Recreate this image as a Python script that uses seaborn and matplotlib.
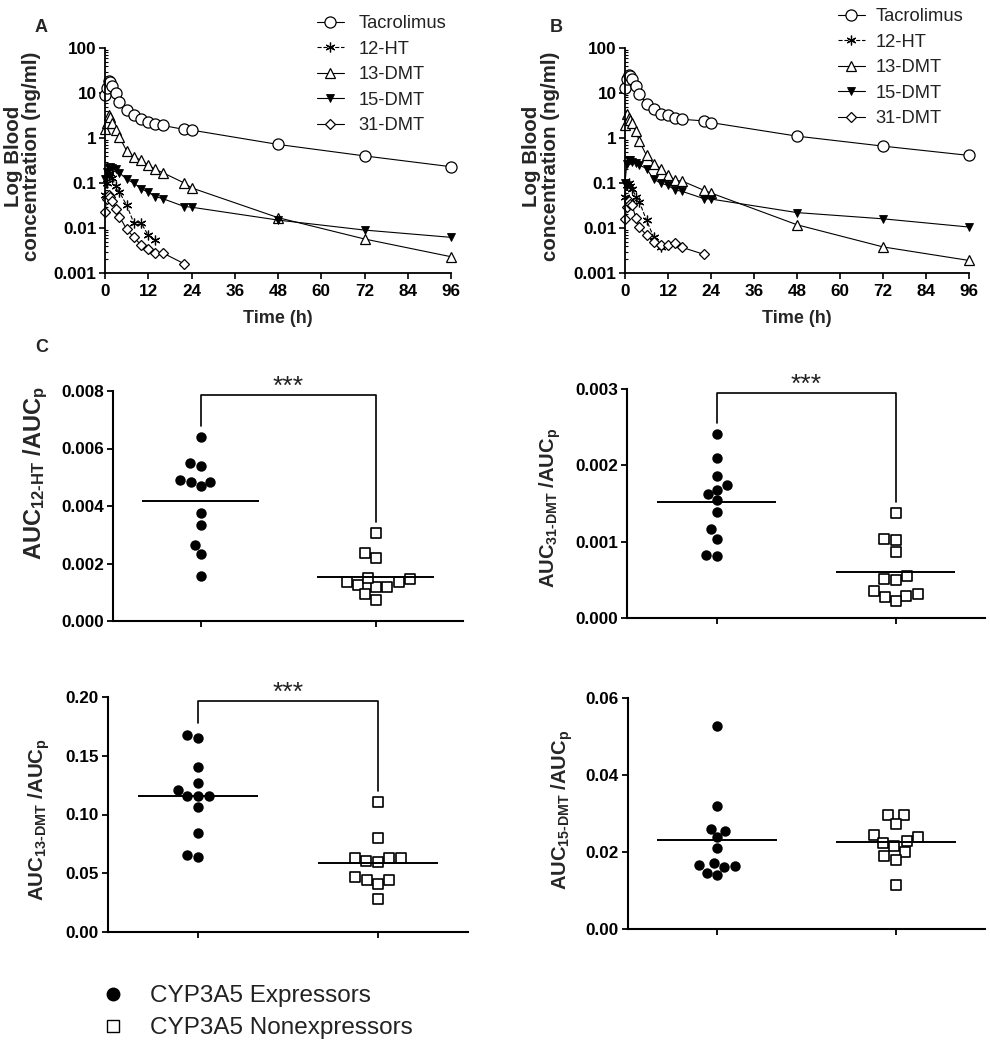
import numpy as np
import pandas as pd
import matplotlib
matplotlib.use("Agg")
import matplotlib.pyplot as plt
import seaborn as sns
from matplotlib.lines import Line2D
from matplotlib.ticker import FixedLocator, FuncFormatter, NullFormatter, LogLocator

sns.set_theme(style="ticks")
plt.rcParams["font.family"] = ["Liberation Sans", "DejaVu Sans"]
plt.rcParams["mathtext.fontset"] = "custom"
plt.rcParams["mathtext.rm"] = "Liberation Sans:bold"
plt.rcParams["mathtext.bf"] = "Liberation Sans:bold"
plt.rcParams["mathtext.it"] = "Liberation Sans:bold"
plt.rcParams["mathtext.sf"] = "Liberation Sans:bold"
plt.rcParams["axes.edgecolor"] = "black"
plt.rcParams["xtick.color"] = "black"
plt.rcParams["ytick.color"] = "black"

# ---------------- data: pharmacokinetic curves ----------------
time_full = [0, 0.5, 1, 1.5, 2, 3, 4, 6, 8, 10, 12, 14, 16, 22, 24, 48, 72, 96]
time_12ht_a = [0, 0.5, 1, 1.5, 2, 3, 4, 6, 8, 10, 12, 14]
time_12ht_b = [0, 0.5, 1, 1.5, 2, 3, 4, 6, 8, 10]
time_31dmt = [0, 0.5, 1, 1.5, 2, 3, 4, 6, 8, 10, 12, 14, 16, 22]

tac_a = [9, 13, 18.6, 18, 14, 10, 6.4, 4.2, 3.2, 2.7, 2.3, 2.1, 1.9, 1.55, 1.5, 0.72, 0.40, 0.23]
ht12_a = [0.055, 0.1, 0.15, 0.17, 0.13, 0.085, 0.063, 0.032, 0.013, 0.013, 0.0069, 0.0054]
dmt13_a = [1.6, 2.2, 3.2, 3.0, 2.2, 1.5, 1.05, 0.52, 0.38, 0.32, 0.25, 0.2, 0.17, 0.1, 0.078, 0.017, 0.0057, 0.0023]
dmt15_a = [0.12, 0.18, 0.22, 0.23, 0.22, 0.2, 0.17, 0.12, 0.1, 0.075, 0.062, 0.05, 0.045, 0.030, 0.029, 0.015, 0.009, 0.0062]
dmt31_a = [0.023, 0.045, 0.055, 0.05, 0.04, 0.026, 0.018, 0.0094, 0.0062, 0.0042, 0.0035, 0.0028, 0.0028, 0.0016]

tac_b = [13, 20, 25, 24, 21, 14, 9.7, 5.8, 4.3, 3.5, 3.2, 2.8, 2.6, 2.4, 2.2, 1.1, 0.66, 0.41]
ht12_b = [0.05, 0.09, 0.1, 0.085, 0.075, 0.05, 0.038, 0.015, 0.0063, 0.0038]
dmt13_b = [1.9, 3.4, 2.8, 2.5, 2.2, 1.4, 0.85, 0.41, 0.27, 0.21, 0.15, 0.114, 0.11, 0.069, 0.06, 0.0118, 0.0038, 0.0019]
dmt15_b = [0.1, 0.27, 0.32, 0.32, 0.3, 0.28, 0.25, 0.21, 0.12, 0.1, 0.088, 0.07, 0.065, 0.045, 0.044, 0.022, 0.016, 0.0105]
dmt31_b = [0.016, 0.03, 0.04, 0.035, 0.032, 0.017, 0.0105, 0.0069, 0.005, 0.0041, 0.0042, 0.0046, 0.0037, 0.0026]

series_names = ["Tacrolimus", "12-HT", "13-DMT", "15-DMT", "31-DMT"]
time_ticks = [0, 12, 24, 36, 48, 60, 72, 84, 96]
log_ticks = [0.001, 0.01, 0.1, 1, 10, 100]

# ---------------- data: AUC ratio dot plots ----------------
groups = ["CYP3A5 Expressors", "CYP3A5 Nonexpressors"]
auc12ht_exp = [0.0064, 0.0054, 0.0055, 0.0049, 0.00485, 0.00468, 0.00485, 0.00375, 0.00335, 0.00265, 0.00233, 0.00158]
auc12ht_non = [0.00305, 0.00238, 0.00218, 0.00145, 0.00135, 0.0012, 0.00125, 0.00149, 0.00135, 0.0012, 0.00093, 0.00073]
auc31dmt_exp = [0.00241, 0.00209, 0.00186, 0.00168, 0.00174, 0.00162, 0.00154, 0.00139, 0.00116, 0.00104, 0.00081, 0.00082]
auc31dmt_non = [0.00137, 0.00104, 0.00102, 0.00086, 0.00051, 0.00050, 0.00055, 0.00036, 0.00029, 0.00022, 0.00028, 0.00031]
auc13dmt_exp = [0.1675, 0.1655, 0.1406, 0.127, 0.121, 0.116, 0.116, 0.116, 0.106, 0.084, 0.064, 0.0656]
auc13dmt_non = [0.1103, 0.080, 0.0634, 0.0634, 0.060, 0.0605, 0.0634, 0.0464, 0.0444, 0.0407, 0.0444, 0.028]
auc15dmt_exp = [0.0526, 0.032, 0.0255, 0.0261, 0.0238, 0.0211, 0.0165, 0.0161, 0.014, 0.0146, 0.0164, 0.0172]
auc15dmt_non = [0.0296, 0.0296, 0.0274, 0.0243, 0.0238, 0.0223, 0.0229, 0.0215, 0.020, 0.019, 0.018, 0.0113]

W, H = 990, 1050
fig = plt.figure(figsize=(W / 100, H / 100), dpi=100)


def fbox(left, top, right, bottom):
    return [left / W, 1 - bottom / H, (right - left) / W, (bottom - top) / H]


TICK_FS = 12.3
BOLD = "bold"


def pk_panel(ax, data, legend_anchor, handletextpad, label_x):
    styles = [
        dict(marker="o", markersize=8, markerfacecolor="white", markeredgecolor="black", markeredgewidth=0.9, linestyle="-"),
        dict(marker=(6, 2, 0), markersize=7, markeredgecolor="black", markeredgewidth=0.9, linestyle="--"),
        dict(marker="^", markersize=7.5, markerfacecolor="white", markeredgecolor="black", markeredgewidth=0.9, linestyle="-"),
        dict(marker="v", markersize=6, markerfacecolor="black", markeredgecolor="black", markeredgewidth=0.6, linestyle="-"),
        dict(marker="D", markersize=5, markerfacecolor="white", markeredgecolor="black", markeredgewidth=0.9, linestyle="-"),
    ]
    for name, (t, v), st in zip(series_names, data, styles):
        df = pd.DataFrame({"t": t, "c": v})
        sns.lineplot(data=df, x="t", y="c", ax=ax, color="black", linewidth=0.8,
                     label=name, clip_on=False, **st)
    ax.set_yscale("log")
    ax.set_ylim(0.001, 100)
    ax.set_xlim(0, 96)
    ax.set_xticks(time_ticks)
    ax.set_xticklabels([str(t) for t in time_ticks], fontsize=TICK_FS, fontweight=BOLD)
    ax.yaxis.set_major_locator(FixedLocator(log_ticks))
    ax.yaxis.set_major_formatter(FuncFormatter(lambda v, p: f"{v:g}"))
    ax.yaxis.set_minor_locator(LogLocator(base=10, subs=np.arange(2, 10)))
    ax.yaxis.set_minor_formatter(NullFormatter())
    for lab in ax.get_yticklabels():
        lab.set_fontsize(TICK_FS)
        lab.set_fontweight(BOLD)
    ax.tick_params(axis="x", which="major", direction="out", length=4, width=1.2, pad=4)
    ax.tick_params(axis="y", which="major", direction="out", length=4, width=1.2, pad=2)
    ax.tick_params(axis="y", which="minor", direction="in", length=2.2, width=0.8)
    sns.despine(ax=ax)
    for s in ["left", "bottom"]:
        ax.spines[s].set_linewidth(1.3)
    ax.set_xlabel("Time (h)", fontsize=13, fontweight=BOLD, labelpad=8)
    ax.set_ylabel("Log Blood\nconcentration (ng/ml)", fontsize=14.8, fontweight=BOLD, linespacing=0.95)
    ax.yaxis.set_label_coords(label_x, 0.52)
    leg = ax.legend(loc="upper left", bbox_to_anchor=legend_anchor, bbox_transform=fig.transFigure,
                    frameon=False, fontsize=13.2, handlelength=1.45, handletextpad=handletextpad,
                    labelspacing=0.47, borderpad=0, borderaxespad=0)
    for txt in leg.get_texts():
        txt.set_color("#222222")
    for h in leg.legend_handles:
        h.set_linewidth(0.8)


axA = fig.add_axes(fbox(105, 48, 451, 273))
pk_panel(axA, [(time_full, tac_a), (time_12ht_a, ht12_a), (time_full, dmt13_a),
               (time_full, dmt15_a), (time_31dmt, dmt31_a)], (317 / W, 1 - 15 / H), 0.8, -0.185)
axB = fig.add_axes(fbox(625, 48, 969, 273))
pk_panel(axB, [(time_full, tac_b), (time_12ht_b, ht12_b), (time_full, dmt13_b),
               (time_full, dmt15_b), (time_31dmt, dmt31_b)], (838 / W, 1 - 8 / H), 0.6, -0.19)


def dot_panel(ax, exp, non, ytop, step, fmt, sub, label_fs, label_xy, signif):
    sns.swarmplot(x=[groups[0]] * len(exp), y=exp, order=groups, ax=ax, color="black",
                  marker="o", size=7.5, linewidth=0)
    sns.swarmplot(x=[groups[1]] * len(non), y=non, order=groups, ax=ax, color="white",
                  marker="s", size=7, edgecolor="black", linewidth=1.2)
    for i, vals in enumerate([exp, non]):
        ax.hlines(np.mean(vals), i - 0.335, i + 0.335, color="black", lw=1.4, zorder=5)
    ax.set_xlim(-0.5, 1.5)
    ax.set_ylim(0, ytop)
    ticks = np.arange(0, ytop + step / 2, step)
    ax.set_yticks(ticks)
    ax.set_yticklabels([fmt % t for t in ticks], fontsize=TICK_FS, fontweight=BOLD)
    ax.set_xticks([0, 1])
    ax.set_xticklabels(["", ""])
    ax.set_xlabel("")
    ax.tick_params(axis="both", direction="out", length=4.5, width=1.3, pad=2)
    sns.despine(ax=ax)
    for s in ["left", "bottom"]:
        ax.spines[s].set_linewidth(1.5)
    ax.set_ylabel(r"AUC$_{\text{" + sub + r"}}$ /AUC$_{\text{p}}$", fontsize=label_fs, fontweight=BOLD)
    ax.yaxis.set_label_coords(*label_xy)
    if signif:
        top = 0.984 * ytop
        lb = max(exp) + 0.05 * ytop
        rb = max(non) + 0.05 * ytop
        ax.plot([0, 0, 1, 1], [lb, top, top, rb], color="black", lw=1.2, clip_on=False)
        ax.annotate("***", xy=(0.5, top), xytext=(0, -3), textcoords="offset points",
                    ha="center", va="bottom", fontsize=19, annotation_clip=False, color="#222222")


ax1 = fig.add_axes(fbox(113, 391, 463, 621))
dot_panel(ax1, auc12ht_exp, auc12ht_non, 0.008, 0.002, "%.3f", "12-HT", 17, (-0.18, 0.645), True)
ax2 = fig.add_axes(fbox(627, 389, 985, 618))
dot_panel(ax2, auc31dmt_exp, auc31dmt_non, 0.003, 0.001, "%.3f", "31-DMT", 14.5, (-0.18, 0.48), True)
ax3 = fig.add_axes(fbox(108, 697, 468, 932))
dot_panel(ax3, auc13dmt_exp, auc13dmt_non, 0.20, 0.05, "%.2f", "13-DMT", 14.8, (-0.155, 0.48), True)
ax4 = fig.add_axes(fbox(628, 698, 985, 929))
dot_panel(ax4, auc15dmt_exp, auc15dmt_non, 0.06, 0.02, "%.2f", "15-DMT", 14.5, (-0.148, 0.515), False)

# panel letters
fig.text(35 / W, 1 - 27 / H, "A", fontsize=13, fontweight=BOLD, va="center", ha="left")
fig.text(550 / W, 1 - 27 / H, "B", fontsize=13, fontweight=BOLD, va="center", ha="left")
fig.text(35 / W, 1 - 348 / H, "C", fontsize=13, fontweight=BOLD, va="center", ha="left")

# group legend
handles = [Line2D([], [], marker="o", ls="none", color="black", markersize=9),
           Line2D([], [], marker="s", ls="none", markerfacecolor="white", markeredgecolor="black",
                  markersize=8, markeredgewidth=1.0)]
leg = fig.legend(handles, groups, loc="upper left", bbox_to_anchor=(101 / W, 1 - 985 / H),
                 frameon=False, fontsize=17.5, handlelength=1.0, handletextpad=1.0,
                 labelspacing=0.42, borderpad=0, borderaxespad=0)
for txt in leg.get_texts():
    txt.set_color("#222222")

fig.savefig("out.png", dpi=100)
